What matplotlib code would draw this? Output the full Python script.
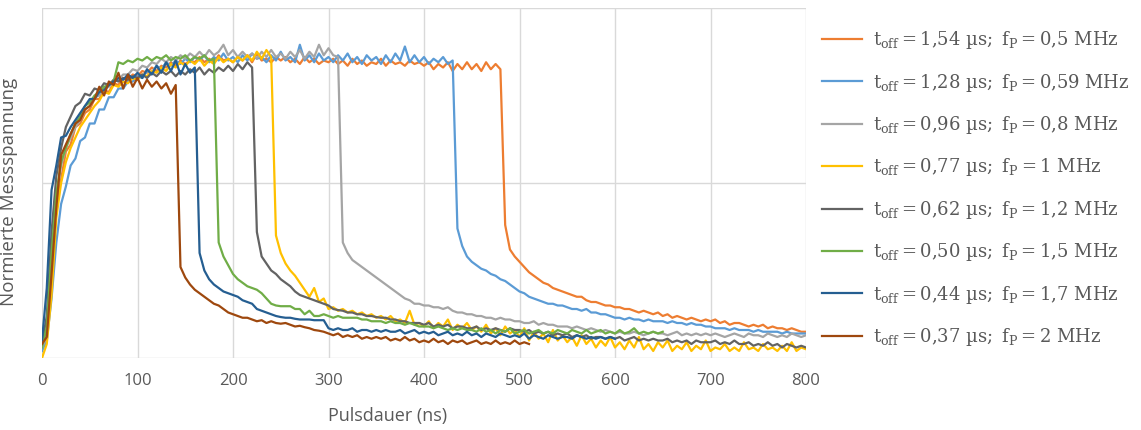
import matplotlib
matplotlib.use("Agg")
import matplotlib.pyplot as plt

plt.rcParams['font.family'] = ['Open Sans', 'DejaVu Sans']
plt.rcParams['mathtext.fontset'] = 'dejavuserif'

# sampling grid of the measurement (ns)
t_ns = [0, 5, 10, 15, 20, 25, 30, 35, 40, 45, 50, 55, 60, 65, 70, 75, 80, 85, 90, 95,
        100, 105, 110, 115, 120, 125, 130, 135, 140, 145, 150, 155, 160, 165, 170, 175, 180, 185, 190, 195,
        200, 205, 210, 215, 220, 225, 230, 235, 240, 245, 250, 255, 260, 265, 270, 275, 280, 285, 290, 295,
        300, 305, 310, 315, 320, 325, 330, 335, 340, 345, 350, 355, 360, 365, 370, 375, 380, 385, 390, 395,
        400, 405, 410, 415, 420, 425, 430, 435, 440, 445, 450, 455, 460, 465, 470, 475, 480, 485, 490, 495,
        500, 505, 510, 515, 520, 525, 530, 535, 540, 545, 550, 555, 560, 565, 570, 575, 580, 585, 590, 595,
        600, 605, 610, 615, 620, 625, 630, 635, 640, 645, 650, 655, 660, 665, 670, 675, 680, 685, 690, 695,
        700, 705, 710, 715, 720, 725, 730, 735, 740, 745, 750, 755, 760, 765, 770, 775, 780, 785, 790, 795,
        800]

v_154 = [0.03, 0.07, 0.20, 0.44, 0.51, 0.59, 0.61, 0.66, 0.67, 0.70,
         0.71, 0.74, 0.74, 0.765, 0.76, 0.785, 0.78, 0.80, 0.795, 0.81,
         0.805, 0.82, 0.815, 0.83, 0.82, 0.835, 0.83, 0.845, 0.835, 0.85,
         0.84, 0.85, 0.845, 0.86, 0.845, 0.855, 0.845, 0.865, 0.85, 0.855,
         0.845, 0.86, 0.85, 0.865, 0.845, 0.87, 0.85, 0.855, 0.845, 0.86,
         0.85, 0.86, 0.845, 0.855, 0.84, 0.86, 0.845, 0.855, 0.84, 0.85,
         0.845, 0.855, 0.84, 0.85, 0.835, 0.855, 0.84, 0.85, 0.835, 0.845,
         0.84, 0.855, 0.835, 0.85, 0.84, 0.845, 0.835, 0.85, 0.84, 0.845,
         0.835, 0.845, 0.825, 0.84, 0.83, 0.845, 0.82, 0.84, 0.825, 0.845,
         0.825, 0.84, 0.82, 0.845, 0.825, 0.84, 0.825, 0.38, 0.31, 0.29,
         0.275, 0.26, 0.245, 0.235, 0.225, 0.215, 0.21, 0.20, 0.195, 0.19,
         0.185, 0.18, 0.175, 0.175, 0.165, 0.16, 0.16, 0.155, 0.15, 0.15,
         0.145, 0.145, 0.14, 0.14, 0.135, 0.13, 0.135, 0.13, 0.125, 0.13,
         0.12, 0.125, 0.115, 0.12, 0.115, 0.11, 0.115, 0.11, 0.105, 0.11,
         0.105, 0.11, 0.10, 0.105, 0.095, 0.10, 0.10, 0.095, 0.09, 0.095,
         0.09, 0.095, 0.085, 0.09, 0.085, 0.085, 0.08, 0.085, 0.08, 0.075,
         0.075]

v_128 = [0.02, 0.05, 0.17, 0.33, 0.44, 0.49, 0.55, 0.57, 0.62, 0.63,
         0.67, 0.67, 0.71, 0.71, 0.745, 0.745, 0.77, 0.77, 0.79, 0.79,
         0.805, 0.80, 0.82, 0.815, 0.835, 0.825, 0.845, 0.835, 0.85, 0.84,
         0.855, 0.845, 0.86, 0.85, 0.865, 0.845, 0.86, 0.85, 0.87, 0.85,
         0.86, 0.845, 0.865, 0.85, 0.87, 0.855, 0.86, 0.845, 0.865, 0.85,
         0.875, 0.85, 0.86, 0.845, 0.895, 0.85, 0.865, 0.845, 0.87, 0.85,
         0.86, 0.845, 0.865, 0.85, 0.87, 0.845, 0.86, 0.84, 0.865, 0.85,
         0.86, 0.84, 0.865, 0.845, 0.87, 0.85, 0.89, 0.845, 0.865, 0.845,
         0.86, 0.84, 0.855, 0.845, 0.86, 0.84, 0.85, 0.37, 0.32, 0.29,
         0.275, 0.265, 0.255, 0.25, 0.24, 0.235, 0.225, 0.22, 0.21, 0.20,
         0.19, 0.185, 0.175, 0.17, 0.165, 0.16, 0.155, 0.155, 0.15, 0.15,
         0.145, 0.14, 0.14, 0.135, 0.14, 0.13, 0.13, 0.125, 0.125, 0.12,
         0.115, 0.115, 0.11, 0.115, 0.11, 0.11, 0.105, 0.11, 0.105, 0.105,
         0.105, 0.10, 0.105, 0.10, 0.10, 0.095, 0.10, 0.095, 0.095, 0.09,
         0.09, 0.085, 0.085, 0.085, 0.08, 0.085, 0.08, 0.08, 0.08, 0.075,
         0.08, 0.075, 0.075, 0.075, 0.075, 0.07, 0.075, 0.07, 0.07, 0.07,
         0.07]

v_096 = [0.03, 0.06, 0.24, 0.46, 0.55, 0.60, 0.63, 0.66, 0.68, 0.71,
         0.72, 0.745, 0.75, 0.77, 0.775, 0.79, 0.795, 0.81, 0.81, 0.825,
         0.82, 0.835, 0.83, 0.845, 0.84, 0.855, 0.845, 0.86, 0.85, 0.865,
         0.855, 0.87, 0.86, 0.875, 0.86, 0.88, 0.865, 0.875, 0.895, 0.865,
         0.88, 0.86, 0.875, 0.86, 0.87, 0.855, 0.875, 0.86, 0.88, 0.86,
         0.87, 0.855, 0.875, 0.86, 0.88, 0.855, 0.875, 0.86, 0.895, 0.865,
         0.885, 0.865, 0.86, 0.33, 0.30, 0.28, 0.27, 0.26, 0.25, 0.24,
         0.23, 0.22, 0.21, 0.20, 0.19, 0.18, 0.17, 0.165, 0.155, 0.155,
         0.15, 0.15, 0.145, 0.145, 0.14, 0.145, 0.135, 0.13, 0.13, 0.125,
         0.125, 0.12, 0.12, 0.115, 0.115, 0.11, 0.115, 0.11, 0.11, 0.105,
         0.105, 0.10, 0.10, 0.105, 0.095, 0.10, 0.095, 0.095, 0.09, 0.09,
         0.09, 0.085, 0.09, 0.085, 0.08, 0.085, 0.08, 0.075, 0.08, 0.075,
         0.07, 0.075, 0.07, 0.07, 0.075, 0.07, 0.065, 0.07, 0.075, 0.07,
         0.07, 0.065, 0.07, 0.075, 0.065, 0.07, 0.065, 0.07, 0.065, 0.07,
         0.065, 0.07, 0.065, 0.06, 0.065, 0.07, 0.065, 0.06, 0.07, 0.065,
         0.065, 0.06, 0.07, 0.065, 0.06, 0.065, 0.06, 0.07, 0.065, 0.06,
         0.065]

v_077 = [0.00, 0.04, 0.18, 0.40, 0.50, 0.56, 0.60, 0.63, 0.66, 0.68,
         0.70, 0.72, 0.735, 0.76, 0.755, 0.78, 0.775, 0.79, 0.785, 0.80,
         0.795, 0.81, 0.805, 0.82, 0.815, 0.83, 0.82, 0.84, 0.83, 0.845,
         0.835, 0.85, 0.84, 0.855, 0.835, 0.85, 0.84, 0.86, 0.845, 0.855,
         0.845, 0.86, 0.85, 0.865, 0.85, 0.875, 0.855, 0.88, 0.86, 0.35,
         0.30, 0.27, 0.25, 0.235, 0.215, 0.195, 0.175, 0.20, 0.16, 0.17,
         0.14, 0.145, 0.135, 0.14, 0.13, 0.135, 0.125, 0.13, 0.12, 0.125,
         0.115, 0.12, 0.11, 0.12, 0.105, 0.11, 0.10, 0.135, 0.095, 0.10,
         0.09, 0.105, 0.085, 0.10, 0.09, 0.11, 0.08, 0.095, 0.085, 0.10,
         0.08, 0.09, 0.075, 0.095, 0.07, 0.085, 0.065, 0.09, 0.07, 0.08,
         0.06, 0.085, 0.05, 0.075, 0.055, 0.07, 0.045, 0.08, 0.05, 0.065,
         0.045, 0.06, 0.035, 0.065, 0.04, 0.055, 0.03, 0.05, 0.035, 0.06,
         0.03, 0.045, 0.025, 0.05, 0.03, 0.06, 0.025, 0.04, 0.02, 0.045,
         0.03, 0.05, 0.02, 0.035, 0.025, 0.045, 0.02, 0.035, 0.025, 0.05,
         0.02, 0.03, 0.025, 0.04, 0.02, 0.03, 0.02, 0.045, 0.025, 0.03,
         0.02, 0.04, 0.025, 0.03, 0.02, 0.035, 0.02, 0.045, 0.02, 0.03,
         0.025]

v_062 = [0.04, 0.12, 0.36, 0.52, 0.60, 0.66, 0.69, 0.72, 0.73, 0.755,
         0.75, 0.77, 0.765, 0.785, 0.78, 0.795, 0.79, 0.80, 0.795, 0.805,
         0.80, 0.81, 0.80, 0.815, 0.805, 0.82, 0.81, 0.82, 0.805, 0.82,
         0.81, 0.825, 0.815, 0.83, 0.81, 0.825, 0.815, 0.83, 0.82, 0.835,
         0.82, 0.84, 0.825, 0.845, 0.83, 0.36, 0.29, 0.27, 0.25, 0.24,
         0.225, 0.215, 0.205, 0.19, 0.18, 0.175, 0.17, 0.165, 0.16, 0.155,
         0.15, 0.14, 0.137, 0.135, 0.13, 0.13, 0.125, 0.125, 0.12, 0.12,
         0.117, 0.115, 0.115, 0.11, 0.11, 0.105, 0.105, 0.10, 0.10, 0.10,
         0.095, 0.10, 0.09, 0.095, 0.09, 0.095, 0.085, 0.09, 0.09, 0.085,
         0.085, 0.09, 0.08, 0.085, 0.08, 0.085, 0.08, 0.075, 0.085, 0.08,
         0.08, 0.075, 0.08, 0.07, 0.075, 0.07, 0.075, 0.065, 0.07, 0.065,
         0.07, 0.06, 0.065, 0.06, 0.065, 0.055, 0.06, 0.06, 0.055, 0.06,
         0.055, 0.06, 0.05, 0.055, 0.06, 0.05, 0.055, 0.05, 0.055, 0.05,
         0.05, 0.055, 0.045, 0.05, 0.045, 0.05, 0.04, 0.05, 0.045, 0.045,
         0.045, 0.05, 0.04, 0.045, 0.04, 0.05, 0.04, 0.04, 0.045, 0.035,
         0.04, 0.035, 0.045, 0.035, 0.04, 0.03, 0.04, 0.035, 0.03, 0.035,
         0.03]

v_050 = [0.03, 0.09, 0.30, 0.47, 0.56, 0.60, 0.64, 0.67, 0.69, 0.72,
         0.73, 0.75, 0.76, 0.775, 0.78, 0.79, 0.845, 0.84, 0.85, 0.845,
         0.855, 0.85, 0.86, 0.85, 0.86, 0.855, 0.865, 0.85, 0.86, 0.855,
         0.865, 0.85, 0.86, 0.855, 0.865, 0.85, 0.855, 0.33, 0.29, 0.265,
         0.24, 0.225, 0.215, 0.205, 0.20, 0.195, 0.185, 0.17, 0.155, 0.15,
         0.148, 0.148, 0.148, 0.14, 0.14, 0.125, 0.135, 0.12, 0.12, 0.125,
         0.12, 0.115, 0.12, 0.115, 0.115, 0.115, 0.115, 0.11, 0.11, 0.105,
         0.105, 0.105, 0.10, 0.105, 0.10, 0.10, 0.095, 0.10, 0.095, 0.09,
         0.09, 0.09, 0.085, 0.09, 0.085, 0.08, 0.085, 0.08, 0.085, 0.08,
         0.08, 0.075, 0.085, 0.075, 0.08, 0.07, 0.08, 0.075, 0.085, 0.07,
         0.075, 0.08, 0.07, 0.075, 0.08, 0.07, 0.075, 0.07, 0.08, 0.075,
         0.07, 0.08, 0.075, 0.07, 0.08, 0.07, 0.075, 0.08, 0.07, 0.075,
         0.07, 0.08, 0.07, 0.075, 0.085, 0.07, 0.075, 0.07, 0.075, 0.07,
         0.075]

v_044 = [0.05, 0.20, 0.48, 0.55, 0.63, 0.635, 0.66, 0.68, 0.70, 0.72,
         0.74, 0.74, 0.76, 0.765, 0.78, 0.79, 0.80, 0.795, 0.81, 0.80,
         0.815, 0.80, 0.825, 0.81, 0.835, 0.815, 0.845, 0.82, 0.85, 0.81,
         0.84, 0.815, 0.83, 0.30, 0.25, 0.225, 0.21, 0.20, 0.19, 0.185,
         0.18, 0.175, 0.165, 0.16, 0.155, 0.14, 0.135, 0.13, 0.125, 0.12,
         0.117, 0.115, 0.115, 0.112, 0.11, 0.11, 0.11, 0.108, 0.108, 0.108,
         0.085, 0.08, 0.085, 0.08, 0.08, 0.085, 0.075, 0.08, 0.08, 0.075,
         0.08, 0.075, 0.08, 0.075, 0.075, 0.08, 0.07, 0.075, 0.08, 0.07,
         0.075, 0.07, 0.075, 0.065, 0.07, 0.075, 0.065, 0.07, 0.065, 0.075,
         0.065, 0.07, 0.06, 0.07, 0.065, 0.06, 0.07, 0.065, 0.06, 0.065,
         0.06, 0.07, 0.055, 0.065, 0.06, 0.055, 0.065, 0.06, 0.055, 0.06,
         0.06, 0.055, 0.065, 0.06, 0.055, 0.06, 0.055, 0.06, 0.055, 0.06,
         0.055]

v_037 = [0.04, 0.06, 0.24, 0.43, 0.58, 0.61, 0.64, 0.67, 0.68, 0.71,
         0.72, 0.74, 0.775, 0.75, 0.79, 0.78, 0.815, 0.77, 0.81, 0.775,
         0.80, 0.77, 0.795, 0.775, 0.79, 0.77, 0.785, 0.755, 0.78, 0.26,
         0.23, 0.21, 0.195, 0.185, 0.175, 0.165, 0.155, 0.15, 0.14, 0.13,
         0.125, 0.12, 0.115, 0.115, 0.11, 0.105, 0.108, 0.10, 0.105, 0.10,
         0.098, 0.10, 0.095, 0.09, 0.092, 0.088, 0.085, 0.08, 0.078, 0.075,
         0.07, 0.065, 0.07, 0.06, 0.065, 0.06, 0.065, 0.055, 0.06, 0.055,
         0.06, 0.055, 0.06, 0.05, 0.055, 0.05, 0.06, 0.05, 0.055, 0.045,
         0.05, 0.045, 0.055, 0.045, 0.05, 0.04, 0.05, 0.045, 0.05, 0.04,
         0.045, 0.05, 0.04, 0.045, 0.04, 0.05, 0.04, 0.045, 0.04, 0.05,
         0.04, 0.045, 0.04]

series = [
    (v_154, '#ED7D31', r'$\mathrm{t_{off}}=1{,}54\ \mathrm{µs;\ f_P}=0{,}5\ \mathrm{MHz}$'),
    (v_128, '#5B9BD5', r'$\mathrm{t_{off}}=1{,}28\ \mathrm{µs;\ f_P}=0{,}59\ \mathrm{MHz}$'),
    (v_096, '#A5A5A5', r'$\mathrm{t_{off}}=0{,}96\ \mathrm{µs;\ f_P}=0{,}8\ \mathrm{MHz}$'),
    (v_077, '#FFC000', r'$\mathrm{t_{off}}=0{,}77\ \mathrm{µs;\ f_P}=1\ \mathrm{MHz}$'),
    (v_062, '#636363', r'$\mathrm{t_{off}}=0{,}62\ \mathrm{µs;\ f_P}=1{,}2\ \mathrm{MHz}$'),
    (v_050, '#70AD47', r'$\mathrm{t_{off}}=0{,}50\ \mathrm{µs;\ f_P}=1{,}5\ \mathrm{MHz}$'),
    (v_044, '#255E91', r'$\mathrm{t_{off}}=0{,}44\ \mathrm{µs;\ f_P}=1{,}7\ \mathrm{MHz}$'),
    (v_037, '#9E480E', r'$\mathrm{t_{off}}=0{,}37\ \mathrm{µs;\ f_P}=2\ \mathrm{MHz}$'),
]

x_ticks = [0, 100, 200, 300, 400, 500, 600, 700, 800]

fig = plt.figure(figsize=(11.41, 4.30), dpi=100)
ax = fig.add_axes([42 / 1141, 1 - 358 / 430, 764 / 1141, 350 / 430])

for vals, col, lab in series:
    ax.plot(t_ns[:len(vals)], vals, color=col, lw=1.6, label=lab, solid_joinstyle='round')

ax.set_xlim(0, 800)
ax.set_ylim(0, 1)
ax.set_xticks(x_ticks)
ax.set_yticks([0, 0.5, 1.0])
ax.set_yticklabels([])
ax.grid(True, color='#d9d9d9', lw=1.0)
ax.set_axisbelow(True)
for s in ax.spines.values():
    s.set_visible(False)
ax.tick_params(axis='both', length=0, labelsize=12, colors='#595959', pad=11)
ax.set_xlabel('Pulsdauer (ns)', fontsize=13, color='#595959')
ax.xaxis.set_label_coords(0.452, -0.14)
ax.set_ylabel('Normierte Messspannung', fontsize=13.5, color='#595959')
ax.yaxis.set_label_coords(-0.032, 0.474)

leg = fig.legend(loc='upper left', bbox_to_anchor=(815 / 1141, 1 - 22 / 430),
                 frameon=False, fontsize=13, handlelength=2.2, handletextpad=0.6,
                 labelspacing=1.13, borderaxespad=0)
for txt in leg.get_texts():
    txt.set_color('#595959')

fig.savefig('out.png', dpi=100, facecolor='white')
